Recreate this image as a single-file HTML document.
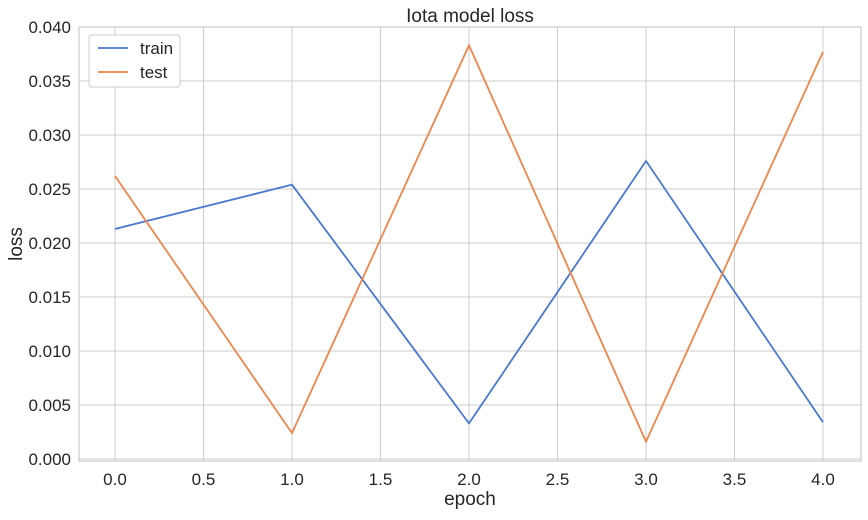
<!DOCTYPE html>
<html><head><meta charset="utf-8"><style>
body{margin:0;background:#fff;}
svg text{font-family:"Liberation Sans","DejaVu Sans",sans-serif;fill:#262626;}
</style></head><body>
<svg id="chart" width="868" height="515" xmlns="http://www.w3.org/2000/svg">
<g id="grid"></g>
<rect x="79" y="27" width="782" height="434" fill="none" stroke="#cccccc" stroke-width="1.2"/>
<g id="ticks"></g>
<g id="series"></g>
<text x="470" y="22" font-size="19" text-anchor="middle">Iota model loss</text>
<text x="470" y="505" font-size="19" text-anchor="middle">epoch</text>
<text x="22" y="244" font-size="19" text-anchor="middle" transform="rotate(-90 22 244)">loss</text>
<g>
<rect x="89" y="35" width="91" height="52" rx="3" fill="#fff" stroke="#cccccc"/>
<line x1="98" y1="48" x2="128" y2="48" stroke="#4878d0" stroke-width="1.8"/>
<text x="140" y="54" font-size="17">train</text>
<line x1="98" y1="72" x2="128" y2="72" stroke="#ee854a" stroke-width="1.8"/>
<text x="140" y="78" font-size="17">test</text>
</g>
</svg>
<script>
const epochs=[0,1,2,3,4];
const trainLoss=[0.0213,0.0254,0.0033,0.0276,0.0034];
const testLoss=[0.0262,0.0024,0.0383,0.0016,0.0377];
const xTicks=[0,0.5,1,1.5,2,2.5,3,3.5,4];
const yTicks=[0,0.005,0.01,0.015,0.02,0.025,0.03,0.035,0.04];
const NS="http://www.w3.org/2000/svg";
function xs(v){return 115+v*177;}
function ys(v){return 459-v*10800;}
const grid=document.getElementById('grid'),ticks=document.getElementById('ticks'),series=document.getElementById('series');
function mk(tag,attrs,parent){const e=document.createElementNS(NS,tag);for(const k in attrs)e.setAttribute(k,attrs[k]);parent.appendChild(e);return e;}
xTicks.forEach(t=>{
 const l=mk('line',{x1:xs(t),x2:xs(t),y1:27,y2:461,stroke:'#cccccc','stroke-width':1},grid);
 
 
 const tx=mk('text',{x:xs(t),y:485,'font-size':17,'text-anchor':'middle'},ticks);
 tx.textContent=t.toFixed(1);
 
 
});
yTicks.forEach(t=>{
 const l=mk('line',{x1:79,x2:861,y1:ys(t),y2:ys(t),stroke:'#cccccc','stroke-width':1},grid);
 
 
 const tx=mk('text',{x:71,y:ys(t)+6,'font-size':17,'text-anchor':'end'},ticks);
 tx.textContent=t.toFixed(3);
 
 
});
function line(data,color,name){
 const p=mk('polyline',{points:data.map((v,i)=>xs(epochs[i])+','+ys(v)).join(' '),fill:'none',stroke:color,'stroke-width':1.8},series);
 
 
}
line(trainLoss,'#4878d0','train-line');
line(testLoss,'#ee854a','test-line');
</script>
</body></html>
